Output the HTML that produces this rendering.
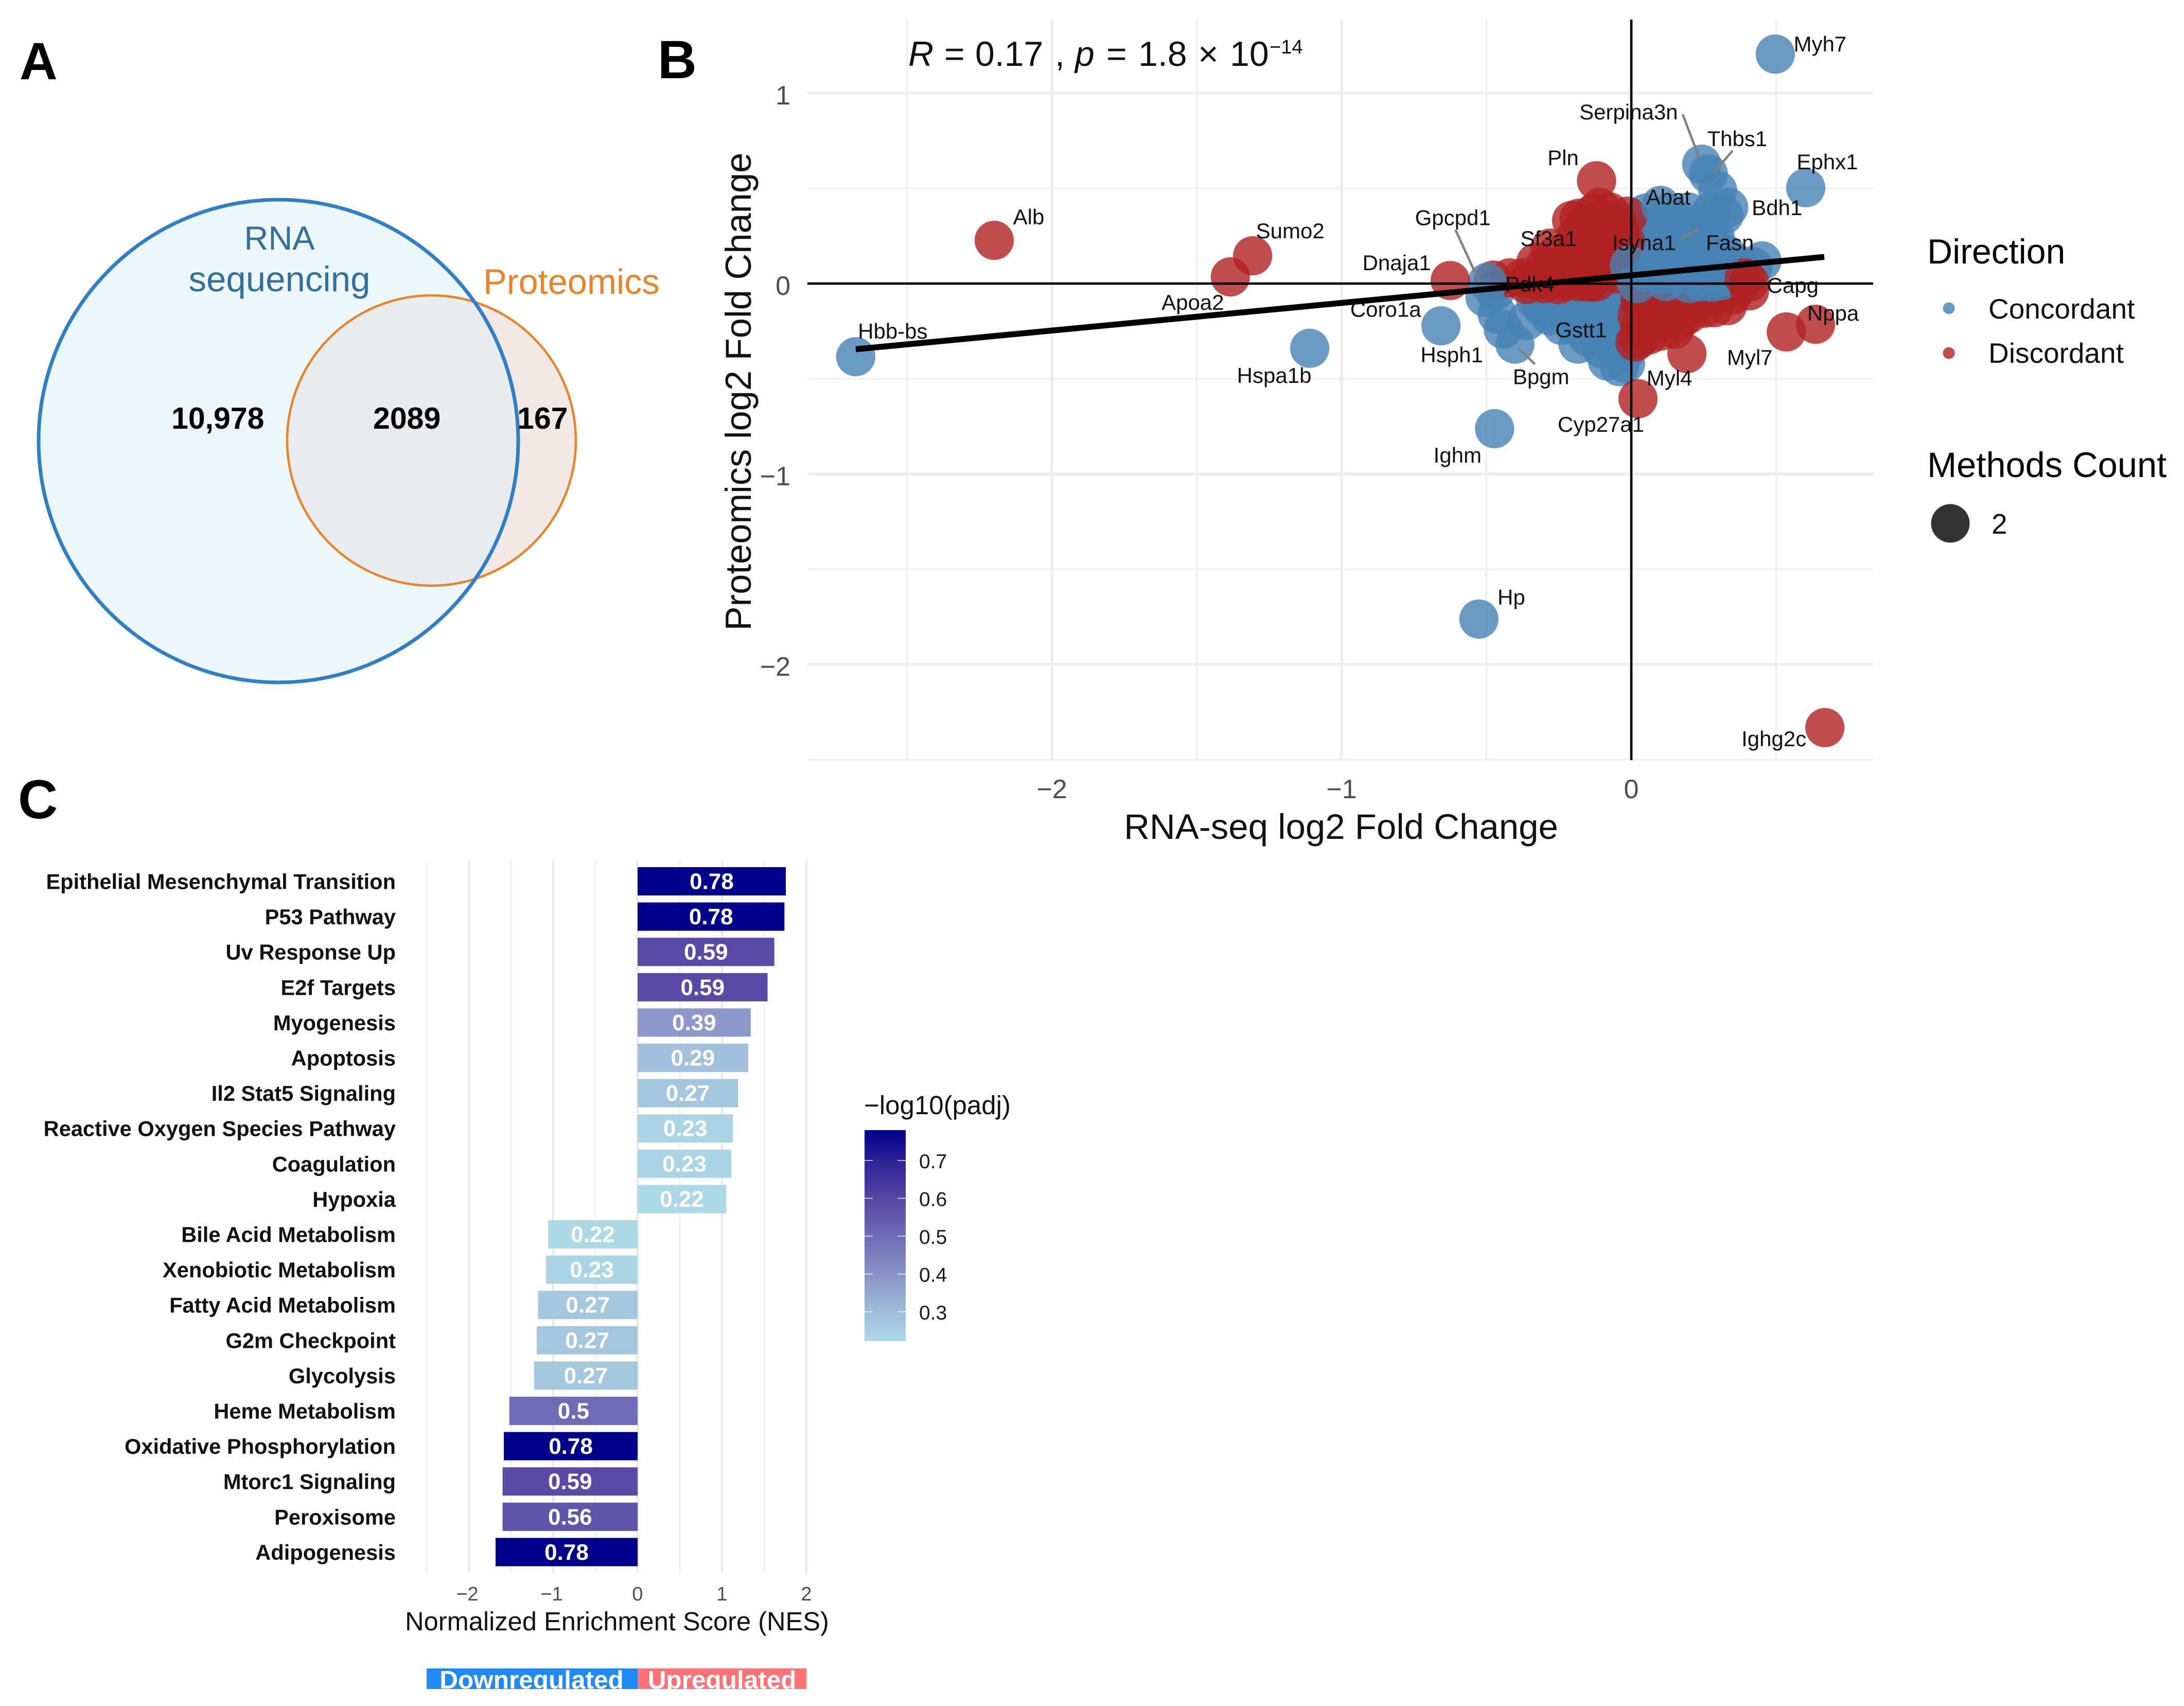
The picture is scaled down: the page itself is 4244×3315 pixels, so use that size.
<!DOCTYPE html>
<html lang="en">
<head>
<meta charset="utf-8">
<title>Multi-omics figure</title>
<style>
html,body{margin:0;padding:0;background:#fff;width:4244px;height:3315px;overflow:hidden}
svg{display:block}
text{font-family:"Liberation Sans",Arial,sans-serif}
</style>
</head>
<body>
<svg id="figure" xmlns="http://www.w3.org/2000/svg" width="4244" height="3315" viewBox="0 0 4244 3315">
<defs>
<clipPath id="bigClip"><ellipse cx="541" cy="857" rx="466" ry="469"/></clipPath>
<clipPath id="stripClip"><rect x="829" y="3242" width="738" height="40"/></clipPath>
<linearGradient id="cbarGrad" x1="0" y1="0" x2="0" y2="1">
<stop offset="0" stop-color="#00008b"/>
<stop offset="0.144" stop-color="#2f2095"/>
<stop offset="0.323" stop-color="#5546a3"/>
<stop offset="0.502" stop-color="#6f6bb6"/>
<stop offset="0.681" stop-color="#8a93c8"/>
<stop offset="0.861" stop-color="#a0bcd9"/>
<stop offset="1" stop-color="#add8e6"/>
</linearGradient>
</defs>
<rect x="0" y="0" width="4244" height="3315" fill="#ffffff"/>

<text x="38" y="154" font-size="102" font-weight="bold">A</text>
<text x="1278" y="152" font-size="105" font-weight="bold">B</text>
<text x="35" y="1590" font-size="107" font-weight="bold">C</text>

<g>
<ellipse cx="838.5" cy="856" rx="280.5" ry="282" fill="#f2e8e6"/>
<ellipse cx="541" cy="857" rx="466" ry="469" fill="#edf6f9"/>
<ellipse cx="838.5" cy="856" rx="280.5" ry="282" fill="#e8ecef" clip-path="url(#bigClip)"/>
<ellipse cx="838.5" cy="856" rx="280.5" ry="282" fill="none" stroke="#e8832a" stroke-width="4.5"/>
<ellipse cx="541" cy="857" rx="466" ry="469" fill="none" stroke="#2f7fc6" stroke-width="7"/>
<text x="543" y="485" font-size="65" text-anchor="middle" fill="#31709e">RNA</text>
<text x="543" y="566" font-size="69" text-anchor="middle" fill="#31709e">sequencing</text>
<text x="939" y="571" font-size="68.5" fill="#e8832a">Proteomics</text>
<text x="333" y="833" font-size="59" font-weight="bold">10,978</text>
<text x="725" y="833" font-size="59" font-weight="bold">2089</text>
<text x="1005" y="833" font-size="59" font-weight="bold">167</text>
</g>

<g id="scatter">
<g id="scatterGrid"></g>
<g id="scatterPoints"></g>
<g id="scatterLines"></g>
<g id="scatterConnectors"></g>
<g id="scatterLabels"></g>
<g id="scatterTicks"></g>
<text x="2606" y="1630" font-size="69" text-anchor="middle" fill="#111">RNA-seq log2 Fold Change</text>
<text transform="translate(1459,761) rotate(-90)" x="0" y="0" font-size="70.5" text-anchor="middle" fill="#111">Proteomics log2 Fold Change</text>
<text y="128" font-size="68" fill="#111"><tspan x="1765" font-style="italic">R</tspan><tspan x="1835">=</tspan><tspan x="1895">0.17</tspan><tspan x="2050">,</tspan><tspan x="2089" font-style="italic">p</tspan><tspan x="2150">=</tspan><tspan x="2212">1.8</tspan><tspan x="2328">×</tspan><tspan x="2390">10</tspan><tspan x="2467" y="104" font-size="38">−14</tspan></text>
</g>

<g>
<text x="3745" y="512" font-size="68">Direction</text>
<circle cx="3787" cy="599" r="11.5" fill="#4682b4" fill-opacity="0.8"/>
<text x="3864" y="619" font-size="55" fill="#111">Concordant</text>
<circle cx="3787" cy="686" r="11.5" fill="#b22222" fill-opacity="0.8"/>
<text x="3864" y="705" font-size="55" fill="#111">Discordant</text>
<text x="3745" y="927" font-size="68.6">Methods Count</text>
<circle cx="3790" cy="1017" r="37.5" fill="#000" fill-opacity="0.8"/>
<text x="3870" y="1037" font-size="55" fill="#111">2</text>
</g>

<g id="nes">
<g id="nesGrid"></g>
<g id="nesBars"></g>
<g id="nesTicks"></g>
<text x="1199" y="3168" font-size="50.6" text-anchor="middle" fill="#111">Normalized Enrichment Score (NES)</text>
<rect x="829" y="3242" width="410" height="40" fill="#2189f5"/>
<rect x="1239" y="3242" width="328" height="40" fill="#ff7376"/>
<g clip-path="url(#stripClip)">
<text x="1033" y="3281" font-size="49.5" font-weight="bold" text-anchor="middle" fill="#fff">Downregulated</text>
<text x="1403" y="3281" font-size="49.5" font-weight="bold" text-anchor="middle" fill="#fff">Upregulated</text>
</g>
</g>

<g id="cbar">
<text x="1679" y="2165" font-size="51" fill="#111">−log10(padj)</text>
<rect x="1680" y="2196" width="80" height="410" fill="url(#cbarGrad)"/>
</g>
</svg>

<script>
// ---------- Panel B data ----------
const geneNames = ["Myh7","Serpina3n","Thbs1","Ephx1","Pln","Abat","Bdh1","Gpcpd1","Sf3a1","Isyna1","Fasn","Dnaja1","Pdk4","Capg","Nppa","Coro1a","Gstt1","Hsph1","Myl7","Bpgm","Myl4","Cyp27a1","Ighm","Hp","Ighg2c","Hbb-bs","Alb","Sumo2","Apoa2","Hspa1b"];
const geneRna = [0.497,0.243,0.266,0.602,-0.12,0.101,0.336,-0.497,-0.28,0.17,0.31,-0.625,-0.361,0.408,0.636,-0.505,-0.184,-0.657,0.535,-0.402,0.192,0.023,-0.472,-0.526,0.668,-2.677,-2.199,-1.307,-1.384,-1.11];
const geneProt = [1.205,0.627,0.576,0.503,0.54,0.41,0.4,0.007,0.186,0.23,0.17,0.016,-0.004,0.008,-0.214,-0.072,-0.318,-0.222,-0.254,-0.318,-0.368,-0.605,-0.762,-1.762,-2.332,-0.384,0.227,0.146,0.035,-0.34];
const geneDirection = ["C","C","C","C","D","C","C","C","D","C","C","D","D","D","D","C","C","C","D","C","D","D","C","C","D","C","D","D","D","C"];

const concordantLowerLeft = [[-0.47,-0.04],[-0.463,-0.161],[-0.442,-0.24],[-0.361,-0.195],[-0.307,-0.126],[-0.33,-0.09],[-0.27,-0.1],[-0.22,-0.09],[-0.17,-0.1],[-0.12,-0.09],[-0.08,-0.08],[-0.28,-0.17],[-0.23,-0.16],[-0.18,-0.15],[-0.13,-0.16],[-0.08,-0.15],[-0.04,-0.12],[-0.19,-0.22],[-0.14,-0.22],[-0.09,-0.22],[-0.04,-0.2],[-0.15,-0.28],[-0.1,-0.28],[-0.05,-0.27],[-0.103,-0.342],[-0.06,-0.33],[-0.02,-0.36],[-0.082,-0.407],[-0.041,-0.436],[-0.02,-0.42],[-0.24,-0.22]];
const discordantLowerRight = [[0.027,-0.29],[0.013,-0.307],[0.06,-0.27],[0.1,-0.25],[0.15,-0.24],[0.03,-0.23],[0.07,-0.2],[0.12,-0.19],[0.17,-0.19],[0.196,-0.162],[0.02,-0.17],[0.05,-0.14],[0.09,-0.13],[0.13,-0.13],[0.17,-0.12],[0.21,-0.11],[0.25,-0.13],[0.286,-0.127],[0.332,-0.116],[0.03,-0.09],[0.07,-0.08],[0.11,-0.07],[0.15,-0.07],[0.19,-0.06],[0.23,-0.06],[0.27,-0.07],[0.3,-0.06],[0.35,-0.06],[0.05,-0.03],[0.09,-0.03],[0.03,-0.05],[0.2,-0.02],[0.16,-0.02],[0.12,-0.02],[0.26,-0.03]];
const concordantUpperRight = [[0.05,0.37],[0.13,0.37],[0.196,0.376],[0.278,0.38],[0.298,0.489],[0.32,0.36],[0.27,0.31],[0.22,0.31],[0.17,0.31],[0.12,0.31],[0.07,0.3],[0.04,0.25],[0.09,0.24],[0.14,0.25],[0.19,0.25],[0.24,0.24],[0.29,0.24],[0.03,0.19],[0.08,0.18],[0.13,0.18],[0.18,0.18],[0.23,0.18],[0.28,0.18],[0.33,0.15],[0.03,0.12],[0.07,0.12],[0.12,0.11],[0.17,0.12],[0.22,0.12],[0.27,0.11],[0.32,0.09],[0.37,0.1],[0.42,0.09],[0.451,0.119],[0.05,0.06],[0.1,0.05],[0.15,0.05],[0.2,0.05],[0.25,0.04],[0.3,0.05],[0.35,0.03],[0.12,0.01],[0.2,0.0],[0.278,0.007],[0.24,0.01],[0.31,0.015]];
const discordantUpperLeft = [[-0.109,0.4],[-0.18,0.343],[-0.206,0.332],[-0.075,0.376],[-0.013,0.354],[-0.13,0.37],[-0.05,0.33],[-0.16,0.31],[-0.1,0.31],[-0.19,0.25],[-0.14,0.25],[-0.09,0.26],[-0.04,0.27],[-0.02,0.22],[-0.18,0.19],[-0.13,0.19],[-0.08,0.2],[-0.04,0.16],[-0.26,0.15],[-0.21,0.14],[-0.16,0.13],[-0.11,0.13],[-0.06,0.11],[-0.33,0.11],[-0.3,0.09],[-0.25,0.08],[-0.2,0.07],[-0.15,0.07],[-0.1,0.06],[-0.05,0.05],[-0.476,0.018],[-0.42,0.03],[-0.375,0.03],[-0.33,0.02],[-0.28,0.02],[-0.23,0.01],[-0.18,0.01],[-0.12,0.01],[-0.252,-0.005],[-0.144,0.007],[-0.3,0.0]];
const discordantTop = [[0.408,-0.038],[0.39,0.03]];
const concordantTop = [[-0.007,0.097],[0.02,0.0]];

const regressionX = [-2.677,0.666];
const regressionY = [-0.345,0.14];

const scatterXTicks = [-2,-1,0];
const scatterYTicks = [1,0,-1,-2];
const scatterXMajor = [-2,-1,0];
const scatterXMinor = [-2.5,-1.5,-0.5,0.5];
const scatterYMajor = [1,0,-1,-2];
const scatterYMinor = [0.5,-0.5,-1.5,-2.5];

// ---------- Panel C data ----------
const pathwayNames = ["Epithelial Mesenchymal Transition","P53 Pathway","Uv Response Up","E2f Targets","Myogenesis","Apoptosis","Il2 Stat5 Signaling","Reactive Oxygen Species Pathway","Coagulation","Hypoxia","Bile Acid Metabolism","Xenobiotic Metabolism","Fatty Acid Metabolism","G2m Checkpoint","Glycolysis","Heme Metabolism","Oxidative Phosphorylation","Mtorc1 Signaling","Peroxisome","Adipogenesis"];
const nesValues = [1.756,1.74,1.62,1.54,1.34,1.31,1.19,1.13,1.11,1.05,-1.06,-1.085,-1.18,-1.195,-1.226,-1.52,-1.585,-1.6,-1.6,-1.683];
const padjValues = [0.78,0.78,0.59,0.59,0.39,0.29,0.27,0.23,0.23,0.22,0.22,0.23,0.27,0.27,0.27,0.5,0.78,0.59,0.56,0.78];
const nesTicks = [-2,-1,0,1,2];
const nesMajor = [-2,-1,0,1,2];
const nesMinor = [-2.5,-1.5,-0.5,0.5,1.5];
const colorbarTicks = [0.7,0.6,0.5,0.4,0.3];
const colorKeys = [0.22,0.3,0.4,0.5,0.6,0.7,0.78];
const colorVals = ["#add8e6","#a0bcd9","#8a93c8","#6f6bb6","#5546a3","#2f2095","#00008b"];

// ---------- Scales ----------
const NS = "http://www.w3.org/2000/svg";
function sx(v){return 3170 + 563*v;}
function sy(v){return 551 - 370*v;}
function nx(v){return 1239 + 164*v;}
function rowY(i){return 1712.5 + 68.6*i;}
function cbarY(v){return 2402 + (0.5 - v)*735;}
function minus(v){return v<0 ? "\u2212"+Math.abs(v) : String(v);}
function hex(c){return [1,3,5].map(function(i){return parseInt(c.substr(i,2),16);});}
function padjColor(v){
  var k = colorKeys, i = 0;
  if (v <= k[0]) return colorVals[0];
  if (v >= k[k.length-1]) return colorVals[k.length-1];
  while (v > k[i+1]) i++;
  var t = (v-k[i])/(k[i+1]-k[i]), a = hex(colorVals[i]), b = hex(colorVals[i+1]);
  return "rgb("+a.map(function(x,j){return Math.round(x+(b[j]-x)*t);}).join(",")+")";
}
function make(tag, attrs, parent, txt){
  var el = document.createElementNS(NS, tag);
  for (var a in attrs) el.setAttribute(a, attrs[a]);
  if (txt !== undefined) el.textContent = txt;
  parent.appendChild(el);
  return el;
}
function byId(i){return document.getElementById(i);}

// ---------- Panel B layout (pixels relative to each gene's point) ----------
const labelNudge = {"Myh7":[87,-19],"Serpina3n":[-142,-101],"Thbs1":[56,-68],"Ephx1":[42,-50],"Pln":[-65,-44],"Abat":[15,-16],"Bdh1":[94,1],"Gpcpd1":[-67,-125],"Sf3a1":[-3,-18],"Isyna1":[-71,6],"Fasn":[17,-16],"Dnaja1":[-104,-34],"Pdk4":[6,0],"Capg":[84,7],"Nppa":[34,-21],"Coro1a":[-193,24],"Gstt1":[6,-27],"Hsph1":[21,57],"Myl7":[-71,50],"Bpgm":[51,64],"Myl4":[-34,48],"Cyp27a1":[-72,50],"Ighm":[-72,52],"Hp":[63,-42],"Ighg2c":[-99,22],"Hbb-bs":[72,-49],"Alb":[67,-45],"Sumo2":[73,-48],"Apoa2":[-73,50],"Hspa1b":[-69,53]};
const connectorNudge = {"Serpina3n":[-37,-97,-4,-10],"Thbs1":[47,-45,10,-2],"Gpcpd1":[-62,-102,-15,0],"Isyna1":[37,-21,1,-2],"Bpgm":[7,8,39,39]};

// ---------- Draw panel B ----------
scatterYMajor.forEach(function(v){
  var el = make("line",{x1:1569,x2:3640,y1:sy(v),y2:sy(v),stroke:"#eeeeee","stroke-width":6},byId("scatterGrid"));
  
  
});
scatterYMinor.forEach(function(v){
  var el = make("line",{x1:1569,x2:3640,y1:sy(v),y2:sy(v),stroke:"#f0f0f0","stroke-width":3.5},byId("scatterGrid"));
  
  
});
scatterXMajor.forEach(function(v){
  var el = make("line",{x1:sx(v),x2:sx(v),y1:38,y2:1477,stroke:"#eeeeee","stroke-width":6},byId("scatterGrid"));
  
  
});
scatterXMinor.forEach(function(v){
  var el = make("line",{x1:sx(v),x2:sx(v),y1:38,y2:1477,stroke:"#f0f0f0","stroke-width":3.5},byId("scatterGrid"));
  
  
});

function drawPoint(x, y, dir){
  var col = dir === "C" ? "#4682b4" : "#b22222";
  var el = make("circle",{cx:sx(x),cy:sy(y),r:37.5,fill:col,"fill-opacity":0.8,stroke:col,"stroke-opacity":0.45,"stroke-width":2},byId("scatterPoints"));
  
  
}
concordantLowerLeft.forEach(function(p){drawPoint(p[0],p[1],"C");});
discordantLowerRight.forEach(function(p){drawPoint(p[0],p[1],"D");});
concordantUpperRight.forEach(function(p){drawPoint(p[0],p[1],"C");});
discordantUpperLeft.forEach(function(p){drawPoint(p[0],p[1],"D");});
discordantTop.forEach(function(p){drawPoint(p[0],p[1],"D");});
concordantTop.forEach(function(p){drawPoint(p[0],p[1],"C");});
geneNames.forEach(function(g,i){drawPoint(geneRna[i],geneProt[i],geneDirection[i]);});

var hLine = make("line",{x1:1569,x2:3640,y1:sy(0),y2:sy(0),stroke:"#000","stroke-width":4.5},byId("scatterLines"));


var vLine = make("line",{x1:sx(0),x2:sx(0),y1:38,y2:1477,stroke:"#000","stroke-width":4.5},byId("scatterLines"));


var regLine = make("line",{x1:sx(regressionX[0]),x2:sx(regressionX[1]),y1:sy(regressionY[0]),y2:sy(regressionY[1]),stroke:"#000","stroke-width":11.5},byId("scatterLines"));



geneNames.forEach(function(g,i){
  var px = sx(geneRna[i]), py = sy(geneProt[i]), n = labelNudge[g];
  var lab = make("text",{x:px+n[0],y:py+n[1]+14,"font-size":42,"text-anchor":"middle",fill:"#111"},byId("scatterLabels"),g);
  
  
  var c = connectorNudge[g];
  if (c) {
    var seg = make("line",{x1:px+c[0],y1:py+c[1],x2:px+c[2],y2:py+c[3],stroke:"#808080","stroke-width":4.5},byId("scatterConnectors"));
    
    
  }
});

scatterXTicks.forEach(function(v){
  var t = make("text",{x:sx(v),y:1551,"font-size":52,"text-anchor":"middle",fill:"#4d4d4d"},byId("scatterTicks"),minus(v));
  
  
});
scatterYTicks.forEach(function(v){
  var t = make("text",{x:1536,y:sy(v)+22,"font-size":52,"text-anchor":"end",fill:"#4d4d4d"},byId("scatterTicks"),minus(v));
  
  
});

// ---------- Draw panel C ----------
nesMajor.forEach(function(v){
  var el = make("line",{x1:nx(v),x2:nx(v),y1:1672,y2:3056,stroke:"#e9e9e9","stroke-width":4},byId("nesGrid"));
  
  
});
nesMinor.forEach(function(v){
  var el = make("line",{x1:nx(v),x2:nx(v),y1:1672,y2:3056,stroke:"#f0f0f0","stroke-width":3},byId("nesGrid"));
  
  
});
pathwayNames.forEach(function(name,i){
  var v = nesValues[i], x0 = nx(Math.min(0,v)), x1 = nx(Math.max(0,v)), cy = rowY(i);
  var bar = make("rect",{x:x0,y:cy-27.5,width:x1-x0,height:55,fill:padjColor(padjValues[i])},byId("nesBars"));
  
  
  var val = make("text",{x:(x0+x1)/2,y:cy+15,"font-size":44,"font-weight":"bold","text-anchor":"middle",fill:"#fff"},byId("nesBars"),String(padjValues[i]));
  
  
  var cat = make("text",{x:769,y:cy+15,"font-size":41.6,"font-weight":"bold","text-anchor":"end",fill:"#111"},byId("nesBars"),name);
  
  
});
nesTicks.forEach(function(v){
  var t = make("text",{x:nx(v)-(v<0?3:0),y:3110,"font-size":38,"text-anchor":"middle",fill:"#4d4d4d"},byId("nesTicks"),minus(v));
  
  
});

// ---------- Colorbar ----------
colorbarTicks.forEach(function(v){
  var y = cbarY(v);
  var a = make("line",{x1:1680,x2:1696,y1:y,y2:y,stroke:"#fff","stroke-opacity":0.65,"stroke-width":2},byId("cbar"));
  
  
  var b = make("line",{x1:1744,x2:1760,y1:y,y2:y,stroke:"#fff","stroke-opacity":0.65,"stroke-width":2},byId("cbar"));
  
  
  var t = make("text",{x:1786,y:y+15,"font-size":39,fill:"#1a1a1a"},byId("cbar"),v.toFixed(1));
  
  
});
</script>
</body>
</html>
